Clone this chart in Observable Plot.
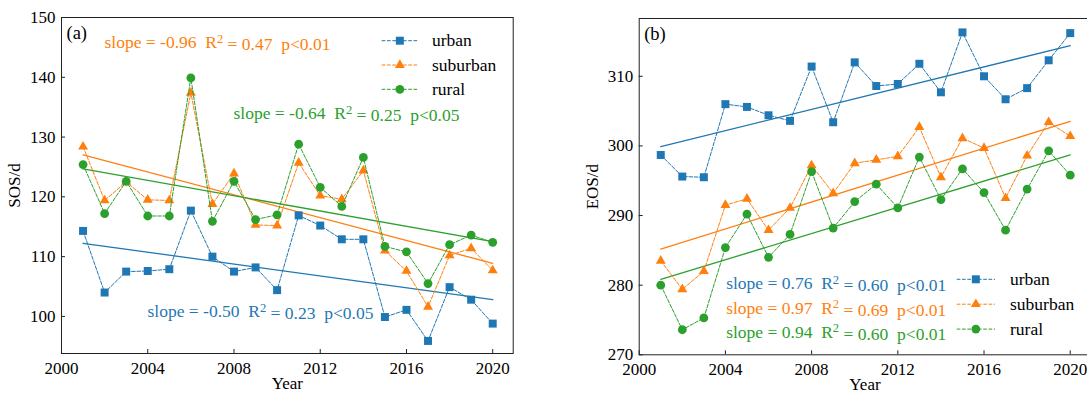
<!DOCTYPE html>
<html><head><meta charset="utf-8">
<script src="https://cdn.jsdelivr.net/npm/d3@7"></script>
<script src="https://cdn.jsdelivr.net/npm/@observablehq/plot@0.6"></script>
<style>
body{margin:0;background:#fff}
#wrap{position:relative;width:1087px;height:393px;overflow:hidden;background:#fff}
#wrap svg{position:absolute;top:0;overflow:visible}
</style></head><body><div id="wrap"></div>
<script>
const years = [2001,2002,2003,2004,2005,2006,2007,2008,2009,2010,2011,2012,2013,2014,2015,2016,2017,2018,2019,2020];
const seriesNames = ["urban","suburban","rural"];
const xTicks = [2000,2004,2008,2012,2016,2020];

const sosUrban    = [114.3,104.0,107.5,107.6,107.9,117.7,110.0,107.5,108.2,104.4,116.9,115.2,112.9,112.9,99.9,101.1,95.9,104.9,102.8,98.8];
const sosSuburban = [128.4,119.4,122.5,119.5,119.4,137.4,118.8,123.9,115.3,115.2,125.7,120.2,119.6,124.4,111.0,107.6,101.6,110.2,111.4,107.7];
const sosRural    = [125.4,117.2,122.6,116.8,116.8,139.9,115.9,122.6,116.2,117.0,128.8,121.6,118.4,126.6,111.7,110.8,105.5,112.0,113.6,112.4];
const sosTicks = [100,110,120,130,140,150];

const eosUrban    = [298.7,295.6,295.5,306.0,305.6,304.4,303.6,311.4,303.4,312.0,308.6,308.9,311.8,307.7,316.3,310.0,306.7,308.3,312.3,316.2];
const eosSuburban = [283.5,279.4,282.0,291.5,292.4,287.9,291.1,297.2,293.2,297.5,298.0,298.5,302.7,295.5,301.1,299.7,292.5,298.6,303.4,301.4];
const eosRural    = [280.0,273.6,275.3,285.4,290.2,284.0,287.3,296.3,288.2,292.0,294.5,291.1,298.4,292.3,296.7,293.3,287.9,293.8,299.3,295.8];
const eosTicks = [270,280,290,300,310];

// [slope, R2, p]
const sosStats = {suburban:["-0.96","0.47","p<0.01"], rural:["-0.64","0.25","p<0.05"], urban:["-0.50","0.23","p<0.05"]};
const eosStats = {urban:["0.76","0.60","p<0.01"], suburban:["0.97","0.69","p<0.01"], rural:["0.94","0.60","p<0.01"]};

const FONT = '"Liberation Serif","Times New Roman",serif';
const colors = {urban:"#1f77b4", suburban:"#ff7f0e", rural:"#2ca02c"};
const symbols = {urban:"square", suburban:"triangle", rural:"circle"};
const radii = {urban:4.5, suburban:3.7, rural:4.4};
const d3sym = {urban:d3.symbolSquare, suburban:d3.symbolTriangle, rural:d3.symbolCircle};
const DASH = "3.7,1.6";
const NB = "\u00a0";

function rows(vals){ return years.map((y,i)=>({year:y, v:vals[i]})); }

function panel(cfg){
  const fw = cfg.width - cfg.ml - cfg.mr;
  const fh = 393 - cfg.mt - cfg.mb;
  const marks = [
    Plot.frame({stroke:"#222", strokeWidth:1}),
    Plot.axisX({ticks:xTicks, tickSize:0, tickPadding:8, tickFormat:d=>String(d), label:null, fontSize:17, fill:"#000"}),
    Plot.axisY({ticks:cfg.yTicks, tickSize:0, tickPadding:6, label:null, fontSize:17, fill:"#000"}),
    Plot.ruleX(xTicks, {x:d=>d, insetTop:fh-4, stroke:"#222"}),
    Plot.ruleY(cfg.yTicks, {y:d=>d, insetRight:fw-4, stroke:"#222"}),
    Plot.text(["Year"], {frameAnchor:"bottom", dy:30, text:d=>d, fontSize:17, lineAnchor:"middle", textAnchor:"middle", fill:"#000"}),
    Plot.text([cfg.ylabel], {frameAnchor:"left", dx:-47, rotate:-90, text:d=>d, fontSize:17, lineAnchor:"middle", textAnchor:"middle", fill:"#000"}),
    Plot.text([cfg.tag], {frameAnchor:"top-left", dx:5, dy:16, text:d=>d, fontSize:18.5, lineAnchor:"middle", textAnchor:"start", fill:"#000"})
  ];
  seriesNames.forEach(n=>{
    const data = rows(cfg.data[n]);
    marks.push(Plot.linearRegressionY(data, {x:"year", y:"v", stroke:colors[n], strokeWidth:1.3, ci:0}));
  });
  seriesNames.forEach(n=>{
    const data = rows(cfg.data[n]);
    marks.push(Plot.line(data, {x:"year", y:"v", stroke:colors[n], strokeWidth:1, strokeDasharray:DASH}));
    marks.push(Plot.dot(data, {x:"year", y:"v", symbol:symbols[n], r:radii[n], fill:colors[n], stroke:"none"}));
  });
  cfg.notes.forEach(nt=>{
    const s = cfg.stats[nt.series];
    const txt = `slope = ${s[0]}${NB}${NB}R|2| = ${s[1]}${NB}${NB}${s[2]}`;
    marks.push(Plot.text([txt], {frameAnchor:"top-left", dx:nt.dx, dy:nt.dy, text:d=>d, fill:colors[nt.series], fontSize:17.5, lineAnchor:"middle", textAnchor:"start"}));
  });
  const svg = Plot.plot({
    width:cfg.width, height:393,
    marginLeft:cfg.ml, marginRight:cfg.mr, marginTop:cfg.mt, marginBottom:cfg.mb,
    x:{domain:[2000,2020.95]},
    y:{domain:cfg.yDomain},
    style:{fontFamily:FONT, fontSize:"17px", color:"#000", background:"transparent"},
    marks
  });
  // superscript the "2" in R^2
  d3.select(svg).selectAll("text").each(function(){
    const t = this.textContent;
    if (!t.includes("R|2|")) return;
    const parts = t.split("|2|");
    const sel = d3.select(this);
    sel.text(null);
    sel.append("tspan").text(parts[0]);
    sel.append("tspan").attr("dy","-0.42em").attr("font-size","0.72em").text("2");
    sel.append("tspan").attr("dy","0.42em").text(parts[1]);
  });
  // legend
  const lg = cfg.legend;
  const g = d3.select(svg).append("g").attr("font-family", FONT).attr("font-size", 17.5).attr("text-anchor","start");
  seriesNames.forEach((n,i)=>{
    const y = lg.y0 + i*lg.gap;
    g.append("line").attr("x1",lg.x1).attr("x2",lg.x2).attr("y1",y).attr("y2",y)
      .attr("stroke",colors[n]).attr("stroke-width",1).attr("stroke-dasharray",DASH);
    g.append("path").attr("d", d3.symbol(d3sym[n], Math.PI*radii[n]*radii[n])())
      .attr("transform",`translate(${(lg.x1+lg.x2)/2},${y})`).attr("fill",colors[n]);
    g.append("text").attr("x",lg.tx).attr("y",y).attr("dy","0.32em").attr("fill","#000").text(n);
  });
  svg.style.left = cfg.left + "px";
  return svg;
}

const wrap = document.getElementById("wrap");
wrap.appendChild(panel({
  left:0, width:560, ml:61, mr:47.3, mt:17, mb:40,
  yDomain:[93.8,150], yTicks:sosTicks, ylabel:"SOS/d", tag:"(a)",
  data:{urban:sosUrban, suburban:sosSuburban, rural:sosRural},
  stats:sosStats,
  notes:[
    {series:"suburban", dx:43, dy:25},
    {series:"rural", dx:172, dy:96},
    {series:"urban", dx:86, dy:294}
  ],
  legend:{x1:381.7, x2:418, tx:432, y0:40.7, gap:24.3}
}));
wrap.appendChild(panel({
  left:560, width:535, ml:78.7, mr:4.8, mt:18, mb:38.7,
  yDomain:[270,318.3], yTicks:eosTicks, ylabel:"EOS/d", tag:"(b)",
  data:{urban:eosUrban, suburban:eosSuburban, rural:eosRural},
  stats:eosStats,
  notes:[
    {series:"urban", dx:87, dy:265},
    {series:"suburban", dx:87, dy:289.6},
    {series:"rural", dx:87, dy:313.6}
  ],
  legend:{x1:396.7, x2:435, tx:450, y0:279.3, gap:24.9}
}));
</script></body></html>
